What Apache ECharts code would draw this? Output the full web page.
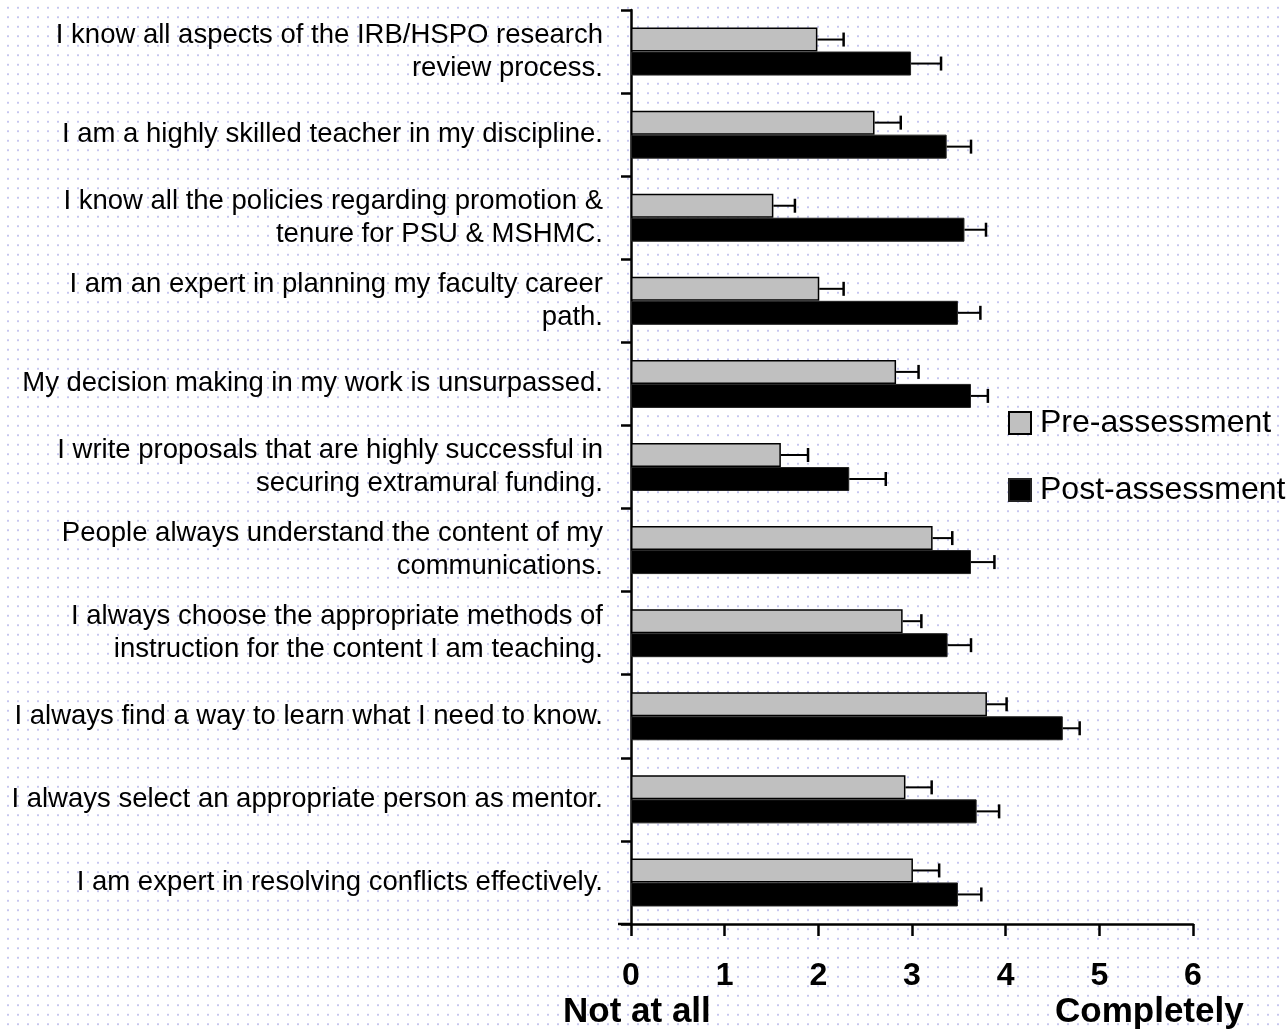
<!DOCTYPE html>
<html>
<head>
<meta charset="utf-8">
<script src="https://cdn.jsdelivr.net/npm/echarts@6/dist/echarts.min.js"></script>
<style>
  html, body { margin: 0; padding: 0; }
  body {
    width: 1287px; height: 1030px; overflow: hidden;
    background-color: #ffffff;
    background-image: radial-gradient(circle, #c6c6f0 1.1px, rgba(255,255,255,0) 1.5px);
    background-size: 10px 9.5px;
    background-position: 3px 3px;
  }
  #chart { width: 1287px; height: 1030px; }
</style>
</head>
<body>
<div id="chart"></div>
<script>
// Survey statements (top to bottom)
const categories = [
  'I know all aspects of the IRB/HSPO research\nreview process.',
  'I am a highly skilled teacher in my discipline.',
  'I know all the policies regarding promotion &\ntenure for PSU & MSHMC.',
  'I am an expert in planning my faculty career\npath.',
  'My decision making in my work is unsurpassed.',
  'I write proposals that are highly successful in\nsecuring extramural funding.',
  'People always understand the content of my\ncommunications.',
  'I always choose the appropriate methods of\ninstruction for the content I am teaching.',
  'I always find a way to learn what I need to know.',
  'I always select an appropriate person as mentor.',
  'I am expert in resolving conflicts effectively.'
];

// Mean ratings and their error margins
const preMean  = [1.99, 2.60, 1.52, 2.01, 2.83, 1.60, 3.22, 2.90, 3.80, 2.93, 3.01];
const preErr   = [0.28, 0.28, 0.23, 0.26, 0.24, 0.29, 0.21, 0.20, 0.21, 0.28, 0.28];
const postMean = [2.99, 3.37, 3.56, 3.49, 3.63, 2.33, 3.63, 3.38, 4.61, 3.69, 3.49];
const postErr  = [0.32, 0.26, 0.23, 0.24, 0.18, 0.39, 0.25, 0.25, 0.18, 0.24, 0.25];

const xTicks = ['0', '1', '2', '3', '4', '5', '6'];
const scaleEnds = ['Not at all', 'Completely'];

const BAR_W = 24;
const FONT = '"Liberation Sans", Arial, Helvetica, sans-serif';

// Positive-only error whisker with a vertical end cap
function whisker(offset) {
  return function (params, api) {
    const cat = api.value(0);
    const mean = api.value(1);
    const err = api.value(2);
    const a = api.coord([mean, cat]);
    const b = api.coord([mean + err, cat]);
    const y = a[1] + offset;
    const cap = 7;
    return {
      type: 'group',
      children: [
        { type: 'line', shape: { x1: a[0], y1: y, x2: b[0], y2: y },
          style: { stroke: '#000', lineWidth: 2 } },
        { type: 'line', shape: { x1: b[0], y1: y - cap, x2: b[0], y2: y + cap },
          style: { stroke: '#000', lineWidth: 2.5 } }
      ]
    };
  };
}

const chart = echarts.init(document.getElementById('chart'), null, { renderer: 'canvas' });

chart.setOption({
  backgroundColor: 'transparent',
  animation: false,
  grid: { left: 631, right: 94, top: 10, bottom: 106, containLabel: false },
  legend: {
    data: ['Pre-assessment', 'Post-assessment'],
    orient: 'vertical',
    left: 1008,
    top: 406,
    padding: 0,
    icon: 'rect',
    itemWidth: 22,
    itemHeight: 22,
    itemGap: 33,
    textStyle: { fontFamily: FONT, fontSize: 32, color: '#000', lineHeight: 34, padding: [0, 0, 0, 4] }
  },
  xAxis: {
    type: 'value',
    min: 0,
    max: 6,
    interval: 1,
    axisLine: { show: true, lineStyle: { color: '#000', width: 2.5 } },
    axisTick: { show: true, length: 12, lineStyle: { color: '#000', width: 2.5 } },
    splitLine: { show: false },
    axisLabel: {
      margin: 36,
      fontFamily: FONT,
      fontSize: 32,
      fontWeight: 'bold',
      color: '#000',
      formatter: function (v) { return xTicks[Math.round(v)]; }
    }
  },
  yAxis: {
    type: 'category',
    data: categories,
    inverse: true,
    axisLine: { show: true, lineStyle: { color: '#000', width: 2.5 } },
    axisTick: { show: true, length: 10, lineStyle: { color: '#000', width: 2.5 } },
    axisLabel: {
      margin: 28,
      fontFamily: FONT,
      fontSize: 27.5,
      lineHeight: 33,
      color: '#000',
      align: 'right'
    }
  },
  series: [
    {
      name: 'Pre-assessment',
      type: 'bar',
      data: preMean,
      barWidth: BAR_W,
      barGap: '0%',
      itemStyle: { color: '#c0c0c0', borderColor: '#000', borderWidth: 1.5 },
      z: 2
    },
    {
      name: 'Post-assessment',
      type: 'bar',
      data: postMean,
      barWidth: BAR_W,
      barGap: '0%',
      itemStyle: { color: '#000', borderColor: '#222', borderWidth: 1 },
      z: 2
    },
    {
      name: 'preWhisker',
      type: 'custom',
      renderItem: whisker(-BAR_W / 2),
      encode: { x: 1, y: 0 },
      data: preMean.map((m, i) => [i, m, preErr[i]]),
      z: 3
    },
    {
      name: 'postWhisker',
      type: 'custom',
      renderItem: whisker(BAR_W / 2),
      encode: { x: 1, y: 0 },
      data: postMean.map((m, i) => [i, m, postErr[i]]),
      z: 3
    }
  ],
  graphic: [
    // x axis line continues a little past the value axis on the left
    { type: 'line', shape: { x1: 618, y1: 924, x2: 632, y2: 924 },
      style: { stroke: '#000', lineWidth: 2.5 } },
    { type: 'text', left: 563, top: 995,
      style: { text: scaleEnds[0], font: 'bold 35px ' + FONT, fill: '#000' } },
    { type: 'text', left: 1055, top: 995,
      style: { text: scaleEnds[1], font: 'bold 35px ' + FONT, fill: '#000' } }
  ]
});
</script>
</body>
</html>
